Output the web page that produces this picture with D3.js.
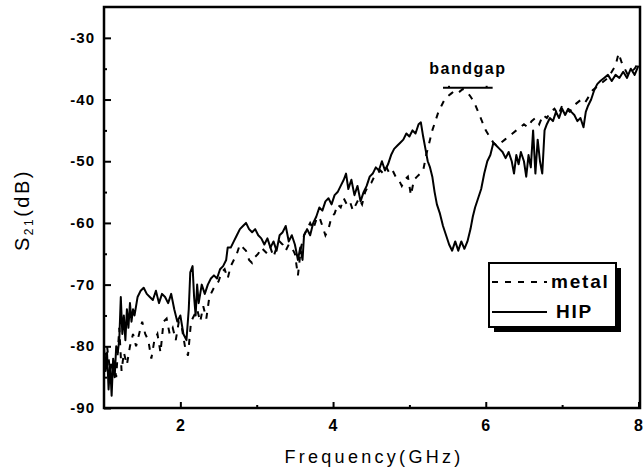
<!DOCTYPE html>
<html>
<head>
<meta charset="utf-8">
<script src="https://cdn.jsdelivr.net/npm/d3@7"></script>
<style>
  body { margin: 0; background: #fff; }
  svg { display: block; }
  .tick-label { font-family: "Liberation Sans", Arial, sans-serif; font-weight: bold; fill: #000; }
  .axis-label { font-family: "Liberation Sans", Arial, sans-serif; font-weight: bold; fill: #000; }
</style>
</head>
<body>
<svg id="chart" width="643" height="476"></svg>
<script>
// Frequency (GHz) and S21 (dB).
const hipFreq = [1.00,1.02,1.04,1.06,1.08,1.10,1.12,1.14,1.16,1.18,1.20,1.22,1.24,1.26,1.28,1.30,1.32,1.34,1.36,1.38,1.40,1.44,1.48,1.52,1.56,1.60,1.64,1.68,1.72,1.76,1.80,1.84,1.88,1.92,1.96,2.00,2.04,2.08,2.11,2.13,2.16,2.18,2.20,2.22,2.24,2.28,2.32,2.36,2.40,2.44,2.48,2.52,2.56,2.60,2.62,2.66,2.70,2.74,2.78,2.82,2.86,2.90,2.94,2.98,3.02,3.06,3.10,3.14,3.18,3.22,3.26,3.30,3.34,3.38,3.42,3.46,3.50,3.54,3.57,3.60,3.62,3.66,3.70,3.74,3.78,3.82,3.86,3.90,3.94,3.98,4.02,4.06,4.10,4.14,4.17,4.20,4.24,4.28,4.32,4.36,4.40,4.44,4.48,4.52,4.56,4.60,4.64,4.68,4.72,4.76,4.80,4.84,4.88,4.92,4.96,5.00,5.04,5.08,5.12,5.15,5.18,5.21,5.24,5.27,5.30,5.33,5.36,5.40,5.44,5.48,5.52,5.56,5.60,5.64,5.68,5.72,5.76,5.80,5.83,5.86,5.90,5.94,5.98,6.02,6.06,6.10,6.14,6.18,6.22,6.26,6.30,6.34,6.37,6.40,6.43,6.46,6.50,6.53,6.56,6.59,6.62,6.65,6.68,6.71,6.74,6.77,6.80,6.84,6.88,6.92,6.96,7.00,7.04,7.08,7.12,7.16,7.20,7.24,7.28,7.31,7.34,7.38,7.42,7.46,7.50,7.55,7.60,7.65,7.70,7.75,7.80,7.85,7.90,7.95,8.00];
const hipS21 = [-80,-84,-81,-87,-83,-88,-82,-85,-80,-81,-79,-72,-78,-75,-79,-74,-77,-73,-76,-74,-75,-72,-71,-70.5,-71.5,-72,-72.5,-71,-73,-71.5,-72,-73,-71.5,-74,-76,-75,-78,-79,-74,-68,-67,-72,-75,-70,-73,-70,-71.5,-70,-69,-68.5,-69,-67.5,-67,-66,-64,-64,-63,-62,-61,-60.5,-60,-61,-61.5,-61,-62,-62.5,-63.5,-62.5,-64,-63,-64.5,-62,-61.5,-60.5,-63,-62,-63.5,-66,-64,-66,-62,-61,-62,-60,-59,-57.5,-58,-56.5,-56,-57,-55.5,-55,-54,-53,-52,-54.5,-53,-55.5,-54,-56.5,-55,-54,-52.5,-52,-51,-51.5,-50,-51.5,-50.5,-49,-48,-47.5,-47,-46.5,-45.5,-46,-45,-45.5,-44,-43.7,-46,-48,-50,-51,-52.5,-55,-57,-58.5,-60.5,-62,-63.5,-64.5,-63,-64.5,-63,-64.2,-63,-61,-59,-57.5,-56,-54.5,-52,-50,-49,-47,-47.5,-48,-48.5,-49.5,-48.5,-50,-52,-49,-50.5,-48.5,-50,-52.5,-49,-51,-45,-52,-46.5,-50,-52,-45,-44,-43,-43.5,-42,-43,-41.5,-42.5,-41.5,-42,-42.5,-43.5,-43,-44.5,-42,-41,-40,-38.5,-37.5,-37,-36.5,-36,-37,-36,-36.5,-35.5,-36.5,-35,-36,-34.5];

const metalFreq = [1.00,1.04,1.08,1.12,1.16,1.20,1.23,1.26,1.30,1.34,1.38,1.42,1.46,1.50,1.54,1.58,1.62,1.66,1.70,1.74,1.78,1.82,1.86,1.90,1.94,1.98,2.02,2.06,2.10,2.14,2.18,2.22,2.26,2.30,2.34,2.38,2.42,2.46,2.50,2.54,2.58,2.62,2.66,2.70,2.74,2.78,2.82,2.86,2.90,2.94,2.98,3.02,3.06,3.10,3.14,3.18,3.22,3.26,3.30,3.34,3.38,3.42,3.46,3.50,3.54,3.58,3.62,3.66,3.70,3.74,3.78,3.82,3.86,3.90,3.94,3.98,4.02,4.06,4.10,4.14,4.18,4.22,4.26,4.30,4.34,4.38,4.42,4.46,4.50,4.54,4.58,4.62,4.66,4.70,4.74,4.78,4.82,4.86,4.90,4.94,4.98,5.02,5.06,5.10,5.14,5.18,5.22,5.26,5.30,5.34,5.38,5.42,5.46,5.50,5.55,5.60,5.65,5.70,5.75,5.80,5.85,5.90,5.95,6.00,6.05,6.10,6.15,6.20,6.25,6.30,6.35,6.40,6.45,6.50,6.55,6.60,6.65,6.70,6.75,6.80,6.85,6.90,6.95,7.00,7.05,7.10,7.15,7.20,7.25,7.30,7.35,7.40,7.45,7.50,7.55,7.60,7.65,7.70,7.74,7.78,7.82,7.86,7.90,7.95,8.00];
const metalS21 = [-82,-80,-84,-82,-85,-77,-84,-81,-83,-80,-78,-80,-78,-76,-78,-79,-82,-79,-78,-81,-76,-75.5,-78,-77,-79,-76,-77,-80,-81.5,-76,-75,-74,-76,-73.5,-75.5,-72,-71,-70,-69.5,-68,-67.5,-69,-67,-66,-65,-63.5,-64,-64.5,-66,-66.5,-65.5,-65,-64,-64.5,-65,-64,-65.5,-64,-63,-63.5,-64.5,-63.5,-64,-65,-68.5,-64,-62,-61,-60,-61,-59.5,-59,-60.5,-62,-61,-59,-58.5,-57,-57.5,-56,-57,-56.5,-58,-57,-56,-57,-55,-54,-53.5,-52.5,-52,-51.5,-52,-51,-52,-51.5,-52.5,-53,-54,-53,-52.5,-55.5,-53,-52.5,-52,-51.5,-49,-47,-45,-43.5,-42,-41,-40,-39.5,-39,-38.5,-38.8,-38.3,-38.7,-39.5,-40.5,-42,-43.5,-45,-46,-47,-47.5,-47,-46.5,-46,-45.5,-45,-44.5,-44,-44.5,-43.5,-43,-44,-42.5,-43,-42,-41.5,-42.5,-41,-41.5,-42,-41,-40.5,-40,-40.5,-39.5,-38.5,-38,-37.5,-37,-36.5,-35.5,-34.5,-32.5,-34,-35,-36,-35.5,-35,-34];

// Axis ticks.
const xTicks = [2, 4, 6, 8];
const xMinorTicks = [3, 5, 7];
const yTicks = [-90, -80, -70, -60, -50, -40, -30];
const yMinorTicks = [-85, -75, -65, -55, -45, -35];

// Bandgap marker range (GHz) and its level (dB).
const bandgap = [5.44, 6.09];
const bandgapLevel = -38.1;

const seriesNames = ["metal", "HIP"];

// Scales.
let x = d3.scaleLinear().domain([1, 8.02]).range([104, 640]);
let y = d3.scaleLinear().domain([-90, -25]).range([408, 7]);

let svg = d3.select("#chart");

// Frame round the plot.
svg.append("rect")
    .attr("x", x(1))
    .attr("y", y(-25))
    .attr("width", x(8.02) - x(1))
    .attr("height", y(-90) - y(-25))
    .attr("fill", "none")
    .attr("stroke", "#000")
    .attr("stroke-width", 2.5);

// Inward ticks on the bottom axis.
svg.append("g")
    .attr("transform", "translate(0," + y(-90) + ")")
    .call(d3.axisBottom(x).tickValues(xTicks).tickSize(-6).tickFormat(""))
    .call(g => g.select(".domain").remove())
    .call(g => g.selectAll("line").attr("stroke-width", 2));
svg.append("g")
    .attr("transform", "translate(0," + y(-90) + ")")
    .call(d3.axisBottom(x).tickValues(xMinorTicks).tickSize(-3).tickFormat(""))
    .call(g => g.select(".domain").remove())
    .call(g => g.selectAll("line").attr("stroke-width", 2));

svg.selectAll(".x-label")
    .data(xTicks)
    .enter().append("text")
    .attr("class", "tick-label")
    .attr("x", d => x(d))
    .attr("y", 431)
    .attr("text-anchor", "middle")
    .style("font-size", "16px")
    .text(d => d);

// Inward ticks on the left axis.
svg.append("g")
    .attr("transform", "translate(" + x(1) + ",0)")
    .call(d3.axisLeft(y).tickValues(yTicks).tickSize(-7).tickFormat(""))
    .call(g => g.select(".domain").remove())
    .call(g => g.selectAll("line").attr("stroke-width", 2));
svg.append("g")
    .attr("transform", "translate(" + x(1) + ",0)")
    .call(d3.axisLeft(y).tickValues(yMinorTicks).tickSize(-3).tickFormat(""))
    .call(g => g.select(".domain").remove())
    .call(g => g.selectAll("line").attr("stroke-width", 2));

svg.selectAll(".y-label")
    .data(yTicks)
    .enter().append("text")
    .attr("class", "tick-label")
    .attr("x", 95)
    .attr("y", d => y(d) + 5)
    .attr("text-anchor", "end")
    .style("font-size", "15px")
    .style("letter-spacing", "1px")
    .text(d => d);

// Axis titles.
svg.append("text")
    .attr("class", "axis-label")
    .attr("x", 374)
    .attr("y", 463)
    .attr("text-anchor", "middle")
    .style("font-size", "18px")
    .style("font-weight", "normal")
    .style("letter-spacing", "3.3px")
    .text("Frequency(GHz)");

let ylab = svg.append("text")
    .attr("class", "axis-label")
    .attr("transform", "translate(29,210) rotate(-90)")
    .attr("text-anchor", "middle")
    .style("font-size", "20px")
    .style("font-weight", "normal")
    .style("letter-spacing", "2.5px");
ylab.append("tspan").text("S");
ylab.append("tspan").attr("dy", 4).style("font-size", "12px").text("21");
ylab.append("tspan").attr("dy", -4).text("(dB)");

// Curves.
let line = d3.line()
    .x(d => x(d[0]))
    .y(d => y(d[1]));

let metal = metalFreq.map((f, i) => [f, metalS21[i]]);
let hip = hipFreq.map((f, i) => [f, hipS21[i]]);

svg.append("path")
    .datum(metal)
    .attr("fill", "none")
    .attr("stroke", "#000")
    .attr("stroke-width", 2)
    .attr("stroke-dasharray", "6,7")
    .attr("d", line);

svg.append("path")
    .datum(hip)
    .attr("fill", "none")
    .attr("stroke", "#000")
    .attr("stroke-width", 2)
    .attr("stroke-linejoin", "round")
    .attr("d", line);

// Bandgap annotation.
svg.append("line")
    .attr("x1", x(bandgap[0]))
    .attr("x2", x(bandgap[1]))
    .attr("y1", y(bandgapLevel))
    .attr("y2", y(bandgapLevel))
    .attr("stroke", "#000")
    .attr("stroke-width", 2);
svg.selectAll(".bg-dot")
    .data(bandgap)
    .enter().append("rect")
    .attr("x", d => x(d) + (d === bandgap[0] ? 5 : -7))
    .attr("y", y(bandgapLevel) - 2)
    .attr("width", 2)
    .attr("height", 2)
    .attr("fill", "#000");
svg.append("text")
    .attr("class", "axis-label")
    .attr("x", (x(bandgap[0]) + x(bandgap[1])) / 2)
    .attr("y", 74)
    .attr("text-anchor", "middle")
    .style("font-size", "16px")
    .style("letter-spacing", "1.5px")
    .text("bandgap");

// Legend with drop shadow.
let legend = svg.append("g").attr("transform", "translate(489,263)");
legend.append("rect")
    .attr("x", 5).attr("y", 5)
    .attr("width", 127).attr("height", 64)
    .attr("fill", "#000");
legend.append("rect")
    .attr("x", 0).attr("y", 0)
    .attr("width", 127).attr("height", 64)
    .attr("fill", "#fff")
    .attr("stroke", "#000")
    .attr("stroke-width", 2);

legend.selectAll(".legend-line")
    .data(seriesNames)
    .enter().append("line")
    .attr("x1", 3)
    .attr("x2", 58)
    .attr("y1", (d, i) => 19 + i * 30)
    .attr("y2", (d, i) => 19 + i * 30)
    .attr("stroke", "#000")
    .attr("stroke-width", 2)
    .attr("stroke-dasharray", d => d === "metal" ? "6,7" : null);

legend.selectAll(".legend-text")
    .data(seriesNames)
    .enter().append("text")
    .attr("class", "axis-label")
    .attr("x", (d, i) => i === 0 ? 62 : 67)
    .attr("y", (d, i) => 25 + i * 30)
    .style("font-size", "19px")
    .style("letter-spacing", "1.8px")
    .text(d => d);
</script>
</body>
</html>
